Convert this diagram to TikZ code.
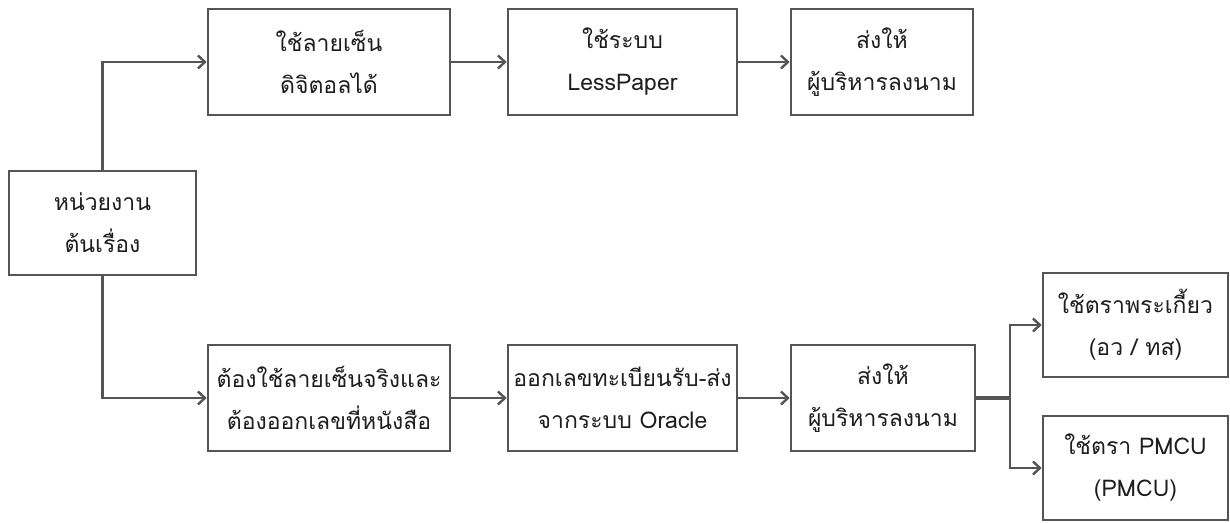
\documentclass[tikz,border=0pt]{standalone}
\usepackage{fontspec}
\newfontfamily\thaifont[Script=Thai]{Loma}
\usetikzlibrary{arrows.meta}
\definecolor{linegray}{HTML}{555555}
\definecolor{txt}{HTML}{1E1E1E}
\begin{document}
\begin{tikzpicture}[x=1pt,y=-1pt,
  box/.style={draw=linegray,line width=2.6pt,fill=white,align=center,inner sep=0pt,
    text=txt,font=\thaifont\fontsize{23}{42}\selectfont},
  conn/.style={draw=linegray,line width=2.4pt,-{Straight Barb[length=7pt,width=13pt,line width=2.4pt]}},
  plain/.style={draw=linegray,line width=2.4pt}]
\useasboundingbox[fill=white] (0,0) rectangle (1230,522);
\node[box,minimum width=187pt,minimum height=104pt] (hub) at (102.5,223) {หน่วยงาน\\ต้นเรื่อง};
\node[box,minimum width=242pt,minimum height=106pt] (a) at (329,62) {ใช้ลายเซ็น\\ดิจิตอลได้};
\node[box,minimum width=229pt,minimum height=106pt] (b) at (622.5,62) {ใช้ระบบ\\LessPaper};
\node[box,minimum width=182pt,minimum height=106pt] (c) at (882,62) {ส่งให้\\ผู้บริหารลงนาม};
\node[box,minimum width=242pt,minimum height=106pt] (d) at (329,398) {ต้องใช้ลายเซ็นจริงและ\\ต้องออกเลขที่หนังสือ};
\node[box,minimum width=229pt,minimum height=106pt] (e) at (622.5,398) {ออกเลขทะเบียนรับ-ส่ง\\จากระบบ Oracle};
\node[box,minimum width=184pt,minimum height=106pt] (f) at (883,398) {ส่งให้\\ผู้บริหารลงนาม};
\node[box,minimum width=185pt,minimum height=104pt] (g) at (1135.5,325) {ใช้ตราพระเกี้ยว\\(อว / ทส)};
\node[box,minimum width=185pt,minimum height=104pt] (h) at (1135.5,468) {ใช้ตรา PMCU\\(PMCU)};
\coordinate (j) at (1010,398);
\draw[conn] (hub.north) |- (a.west);
\draw[conn] (hub.south) |- (d.west);
\draw[conn] (a) -- (b);
\draw[conn] (b) -- (c);
\draw[conn] (d) -- (e);
\draw[conn] (e) -- (f);
\draw[plain,line width=4.5pt] (f.east) -- (j);
\draw[conn] (j) |- (g.west);
\draw[conn] (j) |- (h.west);
\end{tikzpicture}
\end{document}
